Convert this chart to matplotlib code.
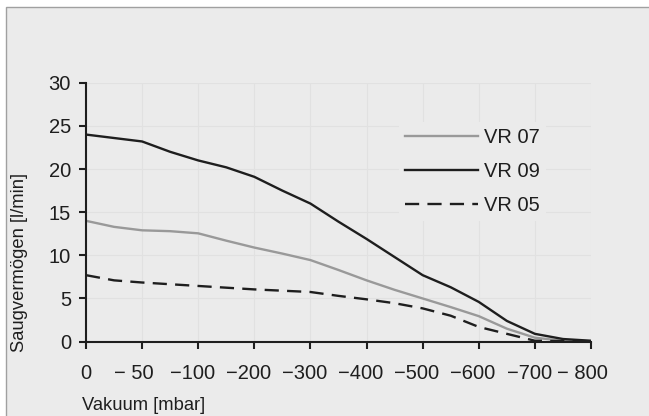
import matplotlib
matplotlib.use("Agg")
import matplotlib.pyplot as plt
from matplotlib.patches import Rectangle
from matplotlib.transforms import ScaledTranslation

# Kategorie-Achse (gleichabständig), Zwischenstellen für den Kurvenverlauf
tick_labels = ["0", "\u2212 50", "\u2212100", "\u2212200", "\u2212300", "\u2212400",
               "\u2212500", "\u2212600", "\u2212700", "\u2212 800"]
pos = [0, 0.5, 1, 1.5, 2, 2.5, 3, 3.5, 4, 4.5, 5, 5.5, 6, 6.5, 7, 7.5, 8, 8.5, 9]

vr07 = [14.0, 13.3, 12.9, 12.8, 12.55, 11.7, 10.9, 10.2, 9.45, 8.3, 7.1, 6.0,
        5.0, 4.0, 2.95, 1.5, 0.45, 0.1, 0.05]
vr09 = [24.0, 23.6, 23.2, 22.0, 21.0, 20.2, 19.1, 17.5, 16.0, 13.9, 11.9, 9.8,
        7.7, 6.3, 4.6, 2.4, 0.9, 0.3, 0.1]
vr05 = [7.7, 7.1, 6.85, 6.65, 6.45, 6.25, 6.05, 5.9, 5.75, 5.3, 4.9, 4.45,
        3.85, 3.0, 1.7, 0.9, 0.1, 0.05, 0.05]

BG = "#ebebeb"
DARK = "#1e1e1e"
FONT = ["Liberation Sans", "DejaVu Sans"]

plt.rcParams["font.family"] = FONT
plt.rcParams["font.size"] = 14.5

fig = plt.figure(figsize=(6.49, 4.16), dpi=100, facecolor="white")
fig.patches.append(Rectangle((5.5 / 649, -0.1), 1.2, 1.1 - 6.5 / 416,
                             transform=fig.transFigure, facecolor=BG,
                             edgecolor="#a0a0a0", linewidth=1, zorder=-1))

ax = fig.add_axes([86 / 649, 1 - 341.6 / 416, 505 / 649, 258.8 / 416])
ax.set_facecolor("none")

ax.plot(pos, vr07, color="#999999", lw=1.7, label="VR 07")
ax.plot(pos, vr09, color=DARK, lw=1.7, label="VR 09")
ax.plot(pos, vr05, color=DARK, lw=1.7, dashes=(6, 3.5), label="VR 05")

ax.set_xlim(0, 9)
ax.set_ylim(0, 30)
ax.set_xticks(range(len(tick_labels)))
ax.set_xticklabels(tick_labels)
ax.set_yticks(range(0, 31, 5))

for s in ["top", "right"]:
    ax.spines[s].set_visible(False)
for s in ["left", "bottom"]:
    ax.spines[s].set_color(DARK)
    ax.spines[s].set_linewidth(1.5)

ax.tick_params(axis="both", direction="out", length=4.8, width=1.5,
               color=DARK, labelcolor=DARK, labelsize=14.5)
ax.tick_params(axis="x", pad=11.5)
ax.tick_params(axis="y", pad=6)
ax.grid(True, color="#e1e1e1", linewidth=0.8)
ax.set_axisbelow(True)

# Zahl mittig unter dem Tick, Minuszeichen links davor
for lab in ax.get_xticklabels()[1:]:
    dx = -0.087 if " " in lab.get_text() else -0.058
    lab.set_transform(lab.get_transform() + ScaledTranslation(dx, 0, fig.dpi_scale_trans))

leg = ax.legend(loc="upper left", bbox_to_anchor=(399 / 649, 1 - 122 / 416),
                bbox_transform=fig.transFigure, frameon=True, fancybox=False,
                facecolor=BG, edgecolor="none", framealpha=1, fontsize=14.5,
                handlelength=3.6, handletextpad=0.3, labelspacing=0.74,
                borderpad=0.3, borderaxespad=0)
for t in leg.get_texts():
    t.set_color(DARK)

fig.text(20 / 649, 1 - 262 / 416, "Saugvermögen [l/min]", rotation=90,
         ha="center", va="center", fontsize=13.2, color=DARK)
fig.text(82 / 649, 1 - 405 / 416, "Vakuum [mbar]", ha="left", va="center",
         fontsize=13.2, color=DARK)

fig.savefig("out.png", dpi=100, facecolor=fig.get_facecolor())
plt.close(fig)
